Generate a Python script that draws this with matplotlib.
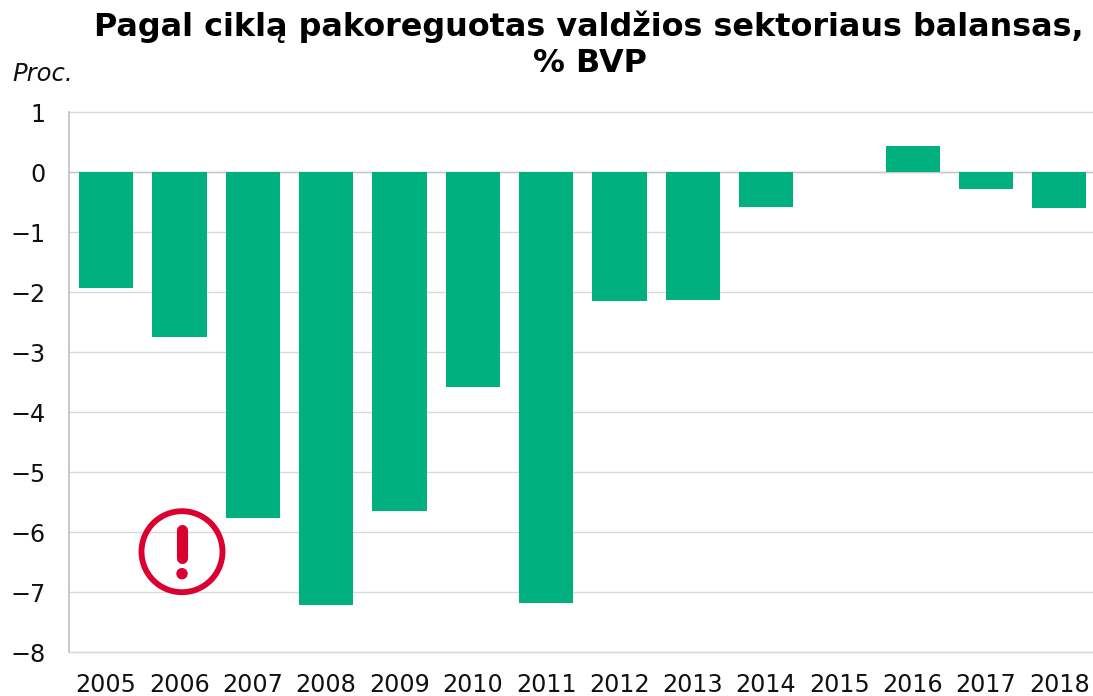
import numpy as np
import matplotlib
matplotlib.use('Agg')
import matplotlib.pyplot as plt
from matplotlib.patches import Circle

# values
years = ['2005', '2006', '2007', '2008', '2009', '2010', '2011',
         '2012', '2013', '2014', '2015', '2016', '2017', '2018']
balance = [-1.93, -2.75, -5.77, -7.21, -5.65, -3.58, -7.18,
           -2.15, -2.14, -0.58, 0.0, 0.43, -0.28, -0.60]
y_ticks = [1, 0, -1, -2, -3, -4, -5, -6, -7, -8]

W, H = 1093, 696
GREEN = '#00B17F'
RED = '#DA0030'

plt.rcParams['font.family'] = ['DejaVu Sans']

fig = plt.figure(figsize=(W / 100, H / 100), dpi=100)
ax = fig.add_axes([69.5 / W, 1 - 652 / H, 1026.5 / W, 540 / H])

x = np.arange(len(years))
ax.bar(x, balance, width=0.74, color=GREEN, zorder=3)

ax.set_xlim(-0.5, len(years) - 0.5)
ax.set_ylim(-8, 1)
ax.set_yticks(y_ticks)
ax.set_yticklabels([str(t).replace('-', '\u2212') for t in y_ticks])
ax.set_xticks(x)
ax.set_xticklabels(years)
ax.tick_params(axis='both', length=0, labelsize=17.2, colors='#111111')
ax.tick_params(axis='x', pad=15)
ax.tick_params(axis='y', pad=17.5)

ax.grid(axis='y', color='#D9D9D9', linewidth=1.0, zorder=1, clip_on=False)
ax.set_axisbelow(True)
for side in ['top', 'right']:
    ax.spines[side].set_visible(False)
ax.spines['bottom'].set_color('#D9D9D9')
ax.spines['bottom'].set_linewidth(1.0)
ax.spines['left'].set_color('#BFBFBF')
ax.spines['left'].set_linewidth(1.2)

# zero line sits above the other gridlines
ax.axhline(0, color='#C8C8C8', linewidth=1.0, zorder=2)

fig.text(588.5 / W, 1 - 27 / H, 'Pagal ciklą pakoreguotas valdžios sektoriaus balansas,',
         fontsize=22.95, fontweight='bold', ha='center', va='center', color='black')
fig.text(589.5 / W, 1 - 63 / H, '% BVP',
         fontsize=22.95, fontweight='bold', ha='center', va='center', color='black')
fig.text(12 / W, 1 - 74 / H, 'Proc.', fontsize=17.5, fontstyle='italic',
         ha='left', va='center', color='#111111')

# warning icon, in pixel coordinates of the figure
ov = fig.add_axes([0, 0, 1, 1], facecolor='none')
ov.set_xlim(0, W)
ov.set_ylim(H, 0)
ov.axis('off')
ov.add_patch(Circle((182, 551.7), 40.5, fill=False, edgecolor=RED, linewidth=4.2, zorder=5))
ov.plot([182, 182], [530, 557.5], color=RED, linewidth=8, solid_capstyle='round', zorder=5)
ov.add_patch(Circle((182, 573.7), 5.7, color=RED, linewidth=0, zorder=5))

fig.savefig('out.png', dpi=100)
